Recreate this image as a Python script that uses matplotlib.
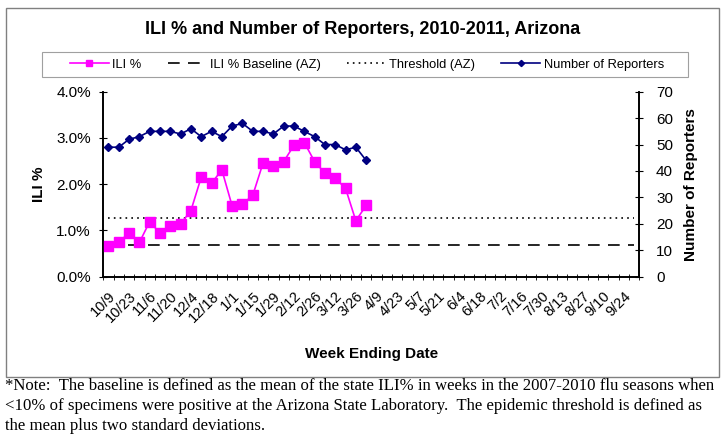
import matplotlib
matplotlib.use("Agg")
import matplotlib.pyplot as plt
from matplotlib.patches import Rectangle
from matplotlib.ticker import FixedLocator, PercentFormatter
from matplotlib.transforms import ScaledTranslation

# --- DADOS ---
N_WEEKS = 52
week_labels = ["10/9", "10/23", "11/6", "11/20", "12/4", "12/18", "1/1", "1/15",
               "1/29", "2/12", "2/26", "3/12", "3/26", "4/9", "4/23", "5/7",
               "5/21", "6/4", "6/18", "7/2", "7/16", "7/30", "8/13", "8/27",
               "9/10", "9/24"]

ili_pct = [0.67, 0.74, 0.95, 0.74, 1.19, 0.94, 1.10, 1.14, 1.43, 2.15, 2.02, 2.31, 1.53,
           1.57, 1.76, 2.46, 2.39, 2.49, 2.84, 2.90, 2.49, 2.24, 2.13, 1.91, 1.21, 1.54]
reporters = [49, 49, 52, 53, 55, 55, 55, 54, 56, 53, 55, 53, 57,
             58, 55, 55, 54, 57, 57, 55, 53, 50, 50, 48, 49, 44]
baseline = 0.69
threshold = 1.26

W, H = 726, 438
plt.rcParams['font.family'] = ['Liberation Sans', 'DejaVu Sans']
fig = plt.figure(figsize=(W / 100, H / 100), dpi=100)

ax = fig.add_axes([103.3 / W, 1 - 276.7 / H, (639.3 - 103.3) / W, (276.7 - 91.7) / H])
ax2 = ax.twinx()

x = list(range(len(ili_pct)))
line_x = [0, N_WEEKS - 1]

ax.plot(line_x, [baseline, baseline], color="black", lw=1.2, dashes=(7, 5), label="ILI % Baseline (AZ)")
ax.plot(line_x, [threshold, threshold], color="black", lw=1.2, dashes=(1, 2.5), label="Threshold (AZ)")
ax.plot(x, ili_pct, color="#FF00FF", marker="s", ms=7, lw=1.2, label="ILI %", zorder=5)
ax2.plot(x, reporters, color="#000080", marker="D", ms=4.5, lw=1.2, label="Number of Reporters")

ax.set_xlim(-0.5, N_WEEKS - 0.5)
ax.set_ylim(0, 4.0)
ax2.set_ylim(0, 70)
ax.yaxis.set_major_locator(FixedLocator([0, 1, 2, 3, 4]))
ax.yaxis.set_major_formatter(PercentFormatter(decimals=1))
ax2.yaxis.set_major_locator(FixedLocator(range(0, 71, 10)))

# ticks between categories, labels every 2 weeks
ax.set_xticks([i - 0.5 for i in range(N_WEEKS + 1)], minor=True)
ax.set_xticks(range(0, N_WEEKS, 2))
ax.set_xticklabels(week_labels, rotation=45, ha="right", va="top", rotation_mode="anchor", fontsize=10.5)
shift = ScaledTranslation(8 / 100, 0, fig.dpi_scale_trans)
for lbl in ax.get_xticklabels():
    lbl.set_transform(lbl.get_transform() + shift)
ax.tick_params(axis="x", which="major", length=0, pad=9)
ax.tick_params(axis="x", which="minor", length=5, direction="inout")
ax.tick_params(axis="y", length=6, direction="inout", labelsize=11, pad=6)
ax2.tick_params(axis="y", length=6, direction="inout", labelsize=11, pad=9)

for a in (ax, ax2):
    for s in a.spines.values():
        s.set_linewidth(1.2)
ax.spines["top"].set_visible(False)
ax2.spines["top"].set_visible(False)

ax.set_ylabel("ILI %", fontsize=11, fontweight="bold", labelpad=7)
ax2.set_ylabel("Number of Reporters", fontsize=11, fontweight="bold", labelpad=8)
ax.set_xlabel("Week Ending Date", fontsize=11, fontweight="bold", labelpad=16)

fig.text(363 / W, 1 - 30 / H, "ILI % and Number of Reporters, 2010-2011, Arizona",
         ha="center", va="center", fontsize=13, fontweight="bold")

h1, l1 = ax.get_legend_handles_labels()
h2, l2 = ax2.get_legend_handles_labels()
handles = [h1[2], h1[0], h1[1], h2[0]]
labels = [l1[2], l1[0], l1[1], l2[0]]
leg = fig.legend(handles, labels, loc="center", ncol=4,
                 bbox_to_anchor=(367 / W, 1 - 64.5 / H),
                 fontsize=9.3, frameon=False, borderaxespad=0,
                 handlelength=3, handletextpad=0.3, columnspacing=2.0, markerscale=0.7)

fig.patches.append(Rectangle((42 / W, 1 - 77 / H), 646 / W, 25 / H, transform=fig.transFigure,
                             fill=False, edgecolor="#A0A0A0", lw=0.8))
fig.patches.append(Rectangle((6 / W, 1 - 377 / H), 713 / W, 369 / H, transform=fig.transFigure,
                             fill=False, edgecolor="#808080", lw=1))

note = ("*Note:  The baseline is defined as the mean of the state ILI% in weeks in the 2007-2010 flu seasons when\n"
        "<10% of specimens were positive at the Arizona State Laboratory.  The epidemic threshold is defined as\n"
        "the mean plus two standard deviations.")
fig.text(5 / W, 1 - 378 / H, note, ha="left", va="top", fontsize=12.1,
         family=["Liberation Serif", "DejaVu Serif"], linespacing=1.32)

fig.savefig("out.png", dpi=100)
